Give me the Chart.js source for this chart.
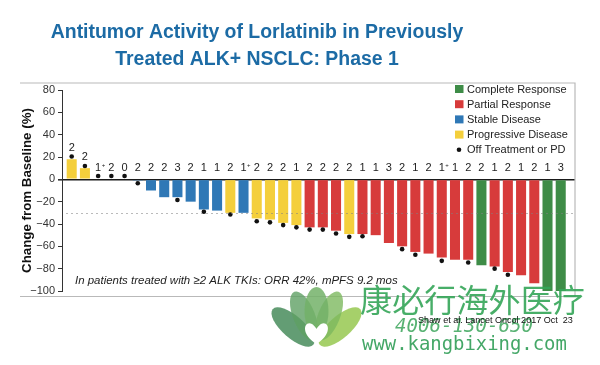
<!DOCTYPE html>
<html><head><meta charset="utf-8">
<script src="https://cdn.jsdelivr.net/npm/chart.js@4"></script>
<style>html,body{margin:0;padding:0;background:#fff}#wrap{width:600px;height:365px;position:relative}</style>
</head><body><div id="wrap"><canvas id="c"></canvas></div>
<script>
// ---- data ----
const titleLines = ["Antitumor Activity of Lorlatinib in Previously", "Treated ALK+ NSCLC: Phase 1"];
const yAxisTitle = "Change from Baseline (%)";
const responseCounts = ["2","2","1+","2","0","2","2","2","3","2","1","1","2","1+","2","2","2","1","2","2","2","2","1","1","3","2","1","2","1+","1","2","2","1","2","1","2","1","3"];
const changeFromBaseline = [18,10,0,0,0,-1,-10,-16,-16,-20,-27,-28,-30,-30,-35,-36,-39,-41,-43,-43,-46,-49,-49,-50,-57,-60,-65,-66.5,-70,-72,-72,-77,-78,-83,-86,-93,-100,-100];
const bestResponse = ["PD","PD","SD","SD","SD","SD","SD","SD","SD","SD","SD","SD","PD","SD","PD","PD","PD","PD","PR","PR","PR","PD","PR","PR","PR","PR","PR","PR","PR","PR","PR","CR","PR","PR","PR","PR","CR","CR"];
const offTreatmentMarker = [20.5,12,3,3,3,-3.5,null,null,-18.5,null,-29,null,-31.5,null,-37.5,-38.5,-41,-43,-45,-45,-48.5,-51.5,-51,null,null,-62.5,-67.5,null,-73,null,-74.5,null,-80,-85.5,null,null,-102.5,null];
const legendKeys = ["CR","PR","SD","PD","OFF"];
const legendLabels = ["Complete Response","Partial Response","Stable Disease","Progressive Disease","Off Treatment or PD"];
const referenceLine = -30;
const yMin = -100, yMax = 80, yStep = 20;
const footnote = "In patients treated with \u22652 ALK TKIs: ORR 42%, mPFS 9.2 mos";
const citation = "Shaw et al. Lancet Oncol 2017 Oct  23";
const watermark = ["康必行海外医疗", "4006-130-650", "www.kangbixing.com"];

// ---- styles ----
const FONT = '"Liberation Sans", Arial, Helvetica, sans-serif';
const colorMap = {CR:'#3e8c47', PR:'#d73b3b', SD:'#2f78b6', PD:'#f4cf3c', OFF:'#111'};

function fitSize(ctx, text, style, family, target) {
  ctx.font = style + ' 20px ' + family;
  const w = ctx.measureText(text).width;
  return 20 * target / w;
}

const decor = {
  id: 'decor',
  beforeDatasetsDraw(chart) {
    const ctx = chart.ctx;
    ctx.save();
    ctx.strokeStyle = '#b9b9b9';
    ctx.lineWidth = 1.2;
    ctx.beginPath();
    ctx.moveTo(20, 83); ctx.lineTo(575, 83); ctx.lineTo(575, 296.5); ctx.lineTo(20, 296.5);
    ctx.stroke();
    ctx.restore();
  },
  afterDatasetsDraw(chart) {
    const ctx = chart.ctx;
    const xs = chart.scales.x, ys = chart.scales.y;
    ctx.save();
    ctx.strokeStyle = 'rgba(130,130,130,0.55)';
    ctx.setLineDash([2, 3]);
    ctx.lineWidth = 1;
    const yr = Math.round(ys.getPixelForValue(referenceLine)) + 0.5;
    ctx.beginPath(); ctx.moveTo(66, yr); ctx.lineTo(574, yr); ctx.stroke();
    ctx.setLineDash([]);
    const zeroPx = ys.getPixelForValue(0);
    ctx.fillStyle = '#222';
    ctx.textBaseline = 'middle';
    responseCounts.forEach((t, i) => {
      const x = xs.getPixelForValue(i);
      const v = changeFromBaseline[i];
      const y = Math.min(zeroPx - 8.5, ys.getPixelForValue(Math.max(v, 0)) - 11);
      const main = t.replace('+', '');
      ctx.font = '11px ' + FONT;
      ctx.textAlign = 'center';
      ctx.fillText(main, x, y);
      if (t.includes('+')) {
        const w = ctx.measureText(main).width;
        ctx.font = '6px ' + FONT;
        ctx.textAlign = 'left';
        ctx.fillText('+', x + w / 2 + 0.5, y - 2.5);
      }
    });
    ctx.font = '11px ' + FONT;
    ctx.textAlign = 'left';
    legendKeys.forEach((k, i) => {
      const y = 89 + i * 15.2;
      if (k === 'OFF') {
        ctx.fillStyle = colorMap.OFF;
        ctx.beginPath(); ctx.arc(459, y, 2.3, 0, Math.PI * 2); ctx.fill();
      } else {
        ctx.fillStyle = colorMap[k];
        ctx.fillRect(455, y - 4, 8.5, 8);
      }
      ctx.fillStyle = '#222';
      ctx.fillText(legendLabels[i], 467, y + 0.5);
    });
    ctx.restore();
  },
  afterDraw(chart) {
    const ctx = chart.ctx;
    ctx.save();
    ctx.fillStyle = '#1c6ba5';
    ctx.textAlign = 'center';
    ctx.textBaseline = 'middle';
    const ts = fitSize(ctx, titleLines[0], 'bold', FONT, 413);
    ctx.font = 'bold ' + ts + 'px ' + FONT;
    ctx.fillText(titleLines[0], 257, 33);
    ctx.fillText(titleLines[1], 257, 60);
    ctx.fillStyle = '#222';
    ctx.textAlign = 'left';
    const fs = fitSize(ctx, footnote, 'italic', FONT, 323);
    ctx.font = 'italic ' + fs + 'px ' + FONT;
    ctx.fillText(footnote, 75, 281);

    const petal = (cx, cy, rx, ry, rot, col) => {
      ctx.fillStyle = col;
      ctx.beginPath(); ctx.ellipse(cx, cy, rx, ry, rot, 0, Math.PI * 2); ctx.fill();
    };
    petal(293, 327, 11, 27, -0.85, 'rgba(72,140,92,0.85)');
    petal(340, 327, 11, 27, 0.85, 'rgba(150,200,80,0.85)');
    petal(304, 316, 11, 26, -0.38, 'rgba(95,160,100,0.8)');
    petal(329, 316, 11, 26, 0.38, 'rgba(125,185,95,0.8)');
    petal(316.5, 311, 12, 24, 0, 'rgba(115,178,105,0.85)');
    ctx.fillStyle = '#fff';
    ctx.beginPath();
    ctx.moveTo(316.5, 344);
    ctx.bezierCurveTo(300, 334, 304, 320, 312, 324);
    ctx.bezierCurveTo(315, 326, 316.5, 329, 316.5, 329);
    ctx.bezierCurveTo(316.5, 329, 318, 326, 321, 324);
    ctx.bezierCurveTo(329, 320, 333, 334, 316.5, 344);
    ctx.fill();

    ctx.textAlign = 'left';
    ctx.fillStyle = 'rgba(52,165,88,0.9)';
    const cs = fitSize(ctx, watermark[0], '', '"Noto Sans CJK SC"', 225);
    ctx.font = cs + 'px "Noto Sans CJK SC"';
    ctx.fillText(watermark[0], 360, 300);
    ctx.fillStyle = 'rgba(70,170,100,0.9)';
    const ps = fitSize(ctx, watermark[1], 'italic', '"DejaVu Sans Mono"', 138);
    ctx.font = 'italic ' + ps + 'px "DejaVu Sans Mono"';
    ctx.fillText(watermark[1], 395, 327);
    ctx.fillStyle = 'rgba(52,160,90,0.92)';
    const us = fitSize(ctx, watermark[2], '', '"DejaVu Sans Mono"', 205);
    ctx.font = us + 'px "DejaVu Sans Mono"';
    ctx.fillText(watermark[2], 362, 345);

    ctx.fillStyle = '#111';
    const cis = fitSize(ctx, citation, '', FONT, 155);
    ctx.font = cis + 'px ' + FONT;
    ctx.fillText(citation, 418, 321);
    ctx.restore();
  }
};

new Chart(document.getElementById('c'), {
  type: 'bar',
  data: {
    datasets: [
      {
        type: 'scatter',
        label: 'Off Treatment or PD',
        data: offTreatmentMarker.map((v, i) => ({x: i, y: v})),
        pointRadius: 2.3,
        pointHoverRadius: 2.3,
        pointBackgroundColor: colorMap.OFF,
        pointBorderWidth: 0,
        clip: false,
        order: 0
      },
      {
        type: 'bar',
        label: 'Change from Baseline',
        data: changeFromBaseline.map((v, i) => ({x: i, y: v})),
        backgroundColor: bestResponse.map(r => colorMap[r]),
        borderWidth: 0,
        barPercentage: 0.76,
        categoryPercentage: 1,
        order: 1
      }
    ]
  },
  options: {
    responsive: true,
    maintainAspectRatio: false,
    animation: false,
    layout: {padding: {left: 0, right: 25, top: 90, bottom: 74}},
    plugins: {legend: {display: false}, title: {display: false}, tooltip: {enabled: false}},
    scales: {
      x: {type: 'linear', min: -0.734, max: 38.08, offset: false, display: false},
      y: {
        min: yMin, max: yMax,
        ticks: {
          stepSize: yStep, color: '#333', padding: 3,
          font: {size: 11, family: FONT},
          callback: v => String(v).replace('-', '\u2212')
        },
        grid: {
          drawOnChartArea: true,
          color: c => (c.tick && c.tick.value === 0) ? '#1a1a1a' : 'rgba(0,0,0,0)',
          lineWidth: c => (c.tick && c.tick.value === 0) ? 1.6 : 1,
          tickColor: '#333', tickLength: 4
        },
        border: {display: true, color: '#333', width: 1},
        title: {
          display: true, text: yAxisTitle, color: '#111',
          font: {size: 13.3, weight: 'bold', family: FONT},
          padding: {top: 19.5, bottom: 0}
        },
        afterFit(s) { s.width = 62; }
      }
    }
  },
  plugins: [decor]
});
</script>
</body></html>
